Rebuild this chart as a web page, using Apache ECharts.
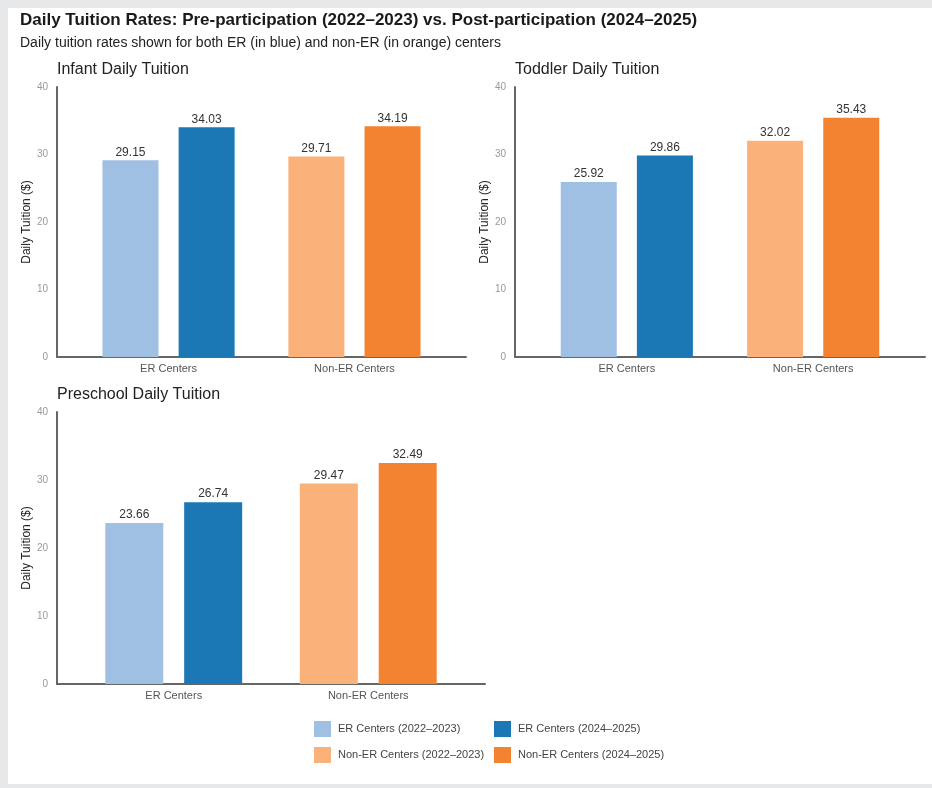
<!DOCTYPE html>
<html>
<head>
<meta charset="utf-8">
<script src="https://cdn.jsdelivr.net/npm/echarts@6/dist/echarts.min.js"></script>
<style>
  html, body { margin: 0; padding: 0; background: #e7e8ea; width: 932px; height: 788px; overflow: hidden; }
  #chart { position: absolute; left: 8px; top: 8px; width: 924px; height: 776px; background: #ffffff; }
</style>
</head>
<body>
<div id="chart"></div>
<script>
// ---- data ----
const categories = ['ER Centers', 'Non-ER Centers'];
const seriesNames = ['ER Centers (2022–2023)', 'ER Centers (2024–2025)', 'Non-ER Centers (2022–2023)', 'Non-ER Centers (2024–2025)'];
const panelTitles = ['Infant Daily Tuition', 'Toddler Daily Tuition', 'Preschool Daily Tuition'];
// [2022–2023, 2024–2025]
const infantER = [29.15, 34.03];
const infantNonER = [29.71, 34.19];
const toddlerER = [25.92, 29.86];
const toddlerNonER = [32.02, 35.43];
const preschoolER = [23.66, 26.74];
const preschoolNonER = [29.47, 32.49];
const yTicks = [0, 10, 20, 30, 40];

const colors = ['#9fbfe3', '#1b78b5', '#fab27a', '#f38330'];
const FONT = '"Liberation Sans", Arial, Helvetica, sans-serif';

const panels = [
  { er: infantER, non: infantNonER, grid: { left: 49, top: 79, width: 409, height: 270 }, title: { left: 49, top: 54 } },
  { er: toddlerER, non: toddlerNonER, grid: { left: 507, top: 79, width: 410, height: 270 }, title: { left: 507, top: 54 } },
  { er: preschoolER, non: preschoolNonER, grid: { left: 49, top: 404, width: 428, height: 272 }, title: { left: 49, top: 379 } }
];

const titles = [
  { text: 'Daily Tuition Rates: Pre-participation (2022–2023) vs. Post-participation (2024–2025)', left: 12, top: 4, padding: 0,
    textStyle: { fontFamily: FONT, fontSize: 17, fontWeight: 'bold', color: '#1a1a1a' } },
  { text: 'Daily tuition rates shown for both ER (in blue) and non-ER (in orange) centers', left: 12, top: 28, padding: 0,
    textStyle: { fontFamily: FONT, fontSize: 14, fontWeight: 'normal', color: '#222' } }
];
const grids = [], xAxes = [], yAxes = [], series = [];

panels.forEach((p, i) => {
  titles.push({ text: panelTitles[i], left: p.title.left, top: p.title.top, padding: 0,
    textStyle: { fontFamily: FONT, fontSize: 16, fontWeight: 'normal', color: '#222' } });
  grids.push(p.grid);
  xAxes.push({
    type: 'value', gridIndex: i, min: -0.6, max: 1.6,
    axisLine: { show: true, onZero: false, lineStyle: { color: '#666', width: 2 } },
    axisTick: { show: false },
    splitLine: { show: false },
    axisLabel: { customValues: [0, 1], formatter: v => categories[Math.round(v)] || '',
      color: '#555', fontSize: 11, fontFamily: FONT, margin: 6 }
  });
  yAxes.push({
    type: 'value', gridIndex: i, min: yTicks[0], max: yTicks[yTicks.length - 1], interval: 10,
    name: 'Daily Tuition ($)', nameLocation: 'middle', nameGap: 24,
    nameTextStyle: { fontFamily: FONT, fontSize: 12, color: '#222' },
    axisLine: { show: true, onZero: false, lineStyle: { color: '#666', width: 2 } },
    axisTick: { show: false },
    splitLine: { show: false },
    axisLabel: { color: '#999', fontSize: 10, fontFamily: FONT, margin: 9 }
  });
  const groups = [
    { vals: p.er, pos: 0 },
    { vals: p.non, pos: 1 }
  ];
  // series order: ER pre, ER post, NonER pre, NonER post
  [[0, 0], [0, 1], [1, 0], [1, 1]].forEach(([g, period], k) => {
    const grp = groups[g];
    const data = [0, 1].map(x => [x, x === grp.pos ? grp.vals[period] : '-']);
    series.push({
      name: seriesNames[k], type: 'bar', xAxisIndex: i, yAxisIndex: i,
      stack: 'p' + i + '_' + period,
      barWidth: i === 2 ? 58 : 56, barGap: '36%',
      itemStyle: { color: colors[k] },
      label: { show: true, position: 'top', distance: 2, fontFamily: FONT, fontSize: 12, color: '#333',
        formatter: d => (typeof d.value[1] === 'number' ? d.value[1].toFixed(2) : '') },
      emphasis: { disabled: true },
      data: data
    });
  });
});

const legendCommon = {
  orient: 'vertical', itemWidth: 17, itemHeight: 16, itemGap: 10, padding: 0, icon: 'rect',
  selectedMode: false,
  textStyle: { fontFamily: FONT, fontSize: 11, color: '#444', padding: [0, 0, 0, 2] }
};

const option = {
  animation: false,
  backgroundColor: '#ffffff',
  title: titles,
  legend: [
    Object.assign({}, legendCommon, { left: 306, top: 713, data: [seriesNames[0], seriesNames[2]] }),
    Object.assign({}, legendCommon, { left: 486, top: 713, data: [seriesNames[1], seriesNames[3]] })
  ],
  grid: grids,
  xAxis: xAxes,
  yAxis: yAxes,
  series: series
};

const chart = echarts.init(document.getElementById('chart'), null, { renderer: 'canvas' });
chart.setOption(option);
</script>
</body>
</html>
